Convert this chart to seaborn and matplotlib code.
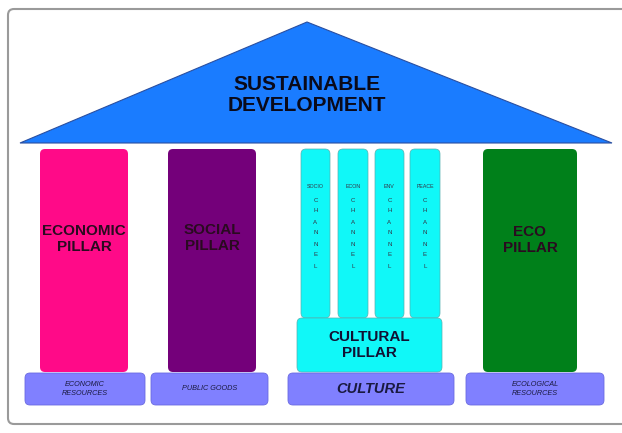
import matplotlib
matplotlib.use("Agg")
import matplotlib.pyplot as plt
from matplotlib.patches import FancyBboxPatch, Polygon
import seaborn as sns

# diagram text
roof_label = "SUSTAINABLE\nDEVELOPMENT"
pillar_labels = ["ECONOMIC\nPILLAR", "SOCIAL\nPILLAR", "ECO\nPILLAR"]
channel_labels = ["SOCIO", "ECON", "ENV", "PEACE"]
culture_label = "CULTURAL\nPILLAR"
base_labels = ["ECONOMIC\nRESOURCES", "PUBLIC GOODS", "CULTURE", "ECOLOGICAL\nRESOURCES"]

sns.set_theme(style="white")
plt.rcParams["font.family"] = ["Liberation Sans", "DejaVu Sans"]

fig = plt.figure(figsize=(6.22, 4.33), dpi=100)
ax = fig.add_axes([0, 0, 1, 1])
ax.set_xlim(0, 622)
ax.set_ylim(433, 0)
ax.axis("off")


def box(x0, y0, x1, y1, color, r=6, ec="none", lw=0):
    p = FancyBboxPatch((x0 + r, y0 + r), (x1 - x0) - 2 * r, (y1 - y0) - 2 * r,
                       boxstyle=f"round,pad={r}", fc=color, ec=ec, lw=lw)
    ax.add_patch(p)


# outer frame
box(8, 9, 630, 424, "white", r=6, ec="#9a9a9a", lw=1.5)

# roof
ax.add_patch(Polygon([(20, 143), (307, 22), (612, 143)], closed=True,
                     fc="#1a7cff", ec="#2a4fa0", lw=0.8))
ax.text(307, 95, roof_label, ha="center", va="center", fontsize=15,
        fontweight="bold", color="#0a0a1a", linespacing=1.15)

# main pillars
pillars = [(40, 128, "#ff0a88"), (168, 256, "#74007a"), (483, 577, "#00801a")]
pillar_text_y = [239, 238, 240]
pillar_sizes = [11, 11, 11]
for (x0, x1, c), lab, ty, fs in zip(pillars, pillar_labels, pillar_text_y, pillar_sizes):
    box(x0, 149, x1, 372, c, r=5)
    ax.text((x0 + x1) / 2, ty, lab, ha="center", va="center", fontsize=fs,
            fontweight="bold", color="#2a0a20", linespacing=1.2)

# culture channels
channels = [(301, 330), (338, 368), (375, 404), (410, 440)]
for (x0, x1), lab in zip(channels, channel_labels):
    box(x0, 149, x1, 318, "#10f8f8", r=5, ec="#55b0b0", lw=0.5)
    xc = (x0 + x1) / 2
    ax.text(xc, 186, lab, ha="center", va="center", fontsize=3.8, color="#333344")
    ax.text(xc, 233, "\n".join("CHANNEL"), ha="center", va="center",
            fontsize=4.4, color="#333344", linespacing=2.5)

box(297, 318, 442, 372, "#10f8f8", r=5, ec="#55b0b0", lw=0.5)
ax.text(369.5, 345, culture_label, ha="center", va="center", fontsize=11,
        fontweight="bold", color="#111133", linespacing=1.2)

# base blocks
bases = [(25, 145), (151, 268), (288, 454), (466, 604)]
base_sizes = [5.2, 5.2, 10.5, 5.2]
for (x0, x1), lab, fs in zip(bases, base_labels, base_sizes):
    box(x0, 373, x1, 405, "#8080ff", r=5, ec="#6a6ae0", lw=0.6)
    ax.text((x0 + x1) / 2, 389, lab, ha="center", va="center", fontsize=fs,
            style="italic", fontweight="bold" if fs > 6 else "normal",
            color="#1a1a40", linespacing=1.4)

fig.savefig("out.png", dpi=100)
